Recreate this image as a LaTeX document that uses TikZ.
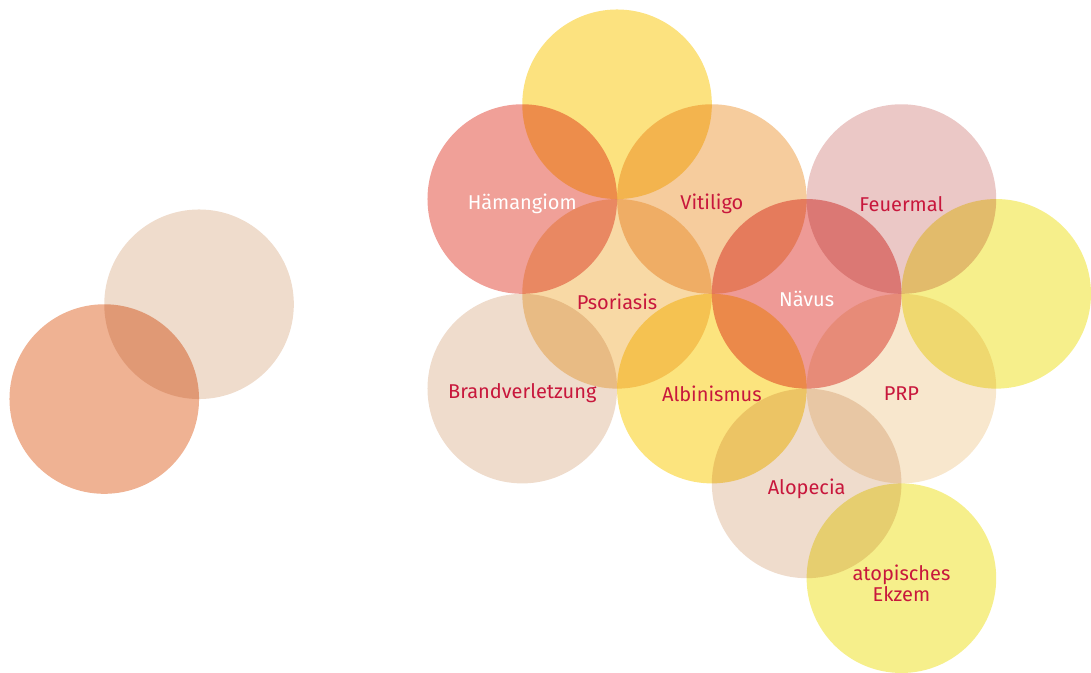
\documentclass[tikz,border=0pt]{standalone}
\usepackage{fontspec}
\setsansfont{Fira Sans}
\usepackage{xcolor}
\usepackage{tikz}
\definecolor{ink}{HTML}{C8173C}
\definecolor{sun}{HTML}{FCE27F}
\definecolor{rose}{HTML}{F0A098}
\definecolor{apricot}{HTML}{F6CC9D}
\definecolor{blush}{HTML}{EBC8C6}
\definecolor{peach}{HTML}{F8D9A5}
\definecolor{coral}{HTML}{EE9A96}
\definecolor{lemon}{HTML}{F6EF8B}
\definecolor{sand}{HTML}{EFDCCC}
\definecolor{gold}{HTML}{FCE47E}
\definecolor{cream}{HTML}{F8E7CD}
\definecolor{salmon}{HTML}{EFB293}
\tikzset{
  disc/.style={circle, minimum size=4cm, inner sep=0pt, outer sep=0pt, draw=none},
  tag/.style={font=\sffamily\fontsize{12}{12.6}\selectfont, text=ink, align=center,
              inner sep=0pt, yshift=-3pt},
  tagwhite/.style={tag, text=white},
}

\begin{document}
\begin{tikzpicture}[x=2cm, y=2cm]
    \useasboundingbox (-0.51,0) rectangle (11.0,7.1);

    % overlapping discs, multiplied so the lenses darken
    \begin{scope}[blend group=multiply]
      \node[disc, fill=sand]    (pairA) at (1.59,3.89) {};
      \node[disc, fill=salmon]  (pairB) at (0.59,2.89) {};

      \node[disc, fill=sun]     (top)   at (6,6) {};
      \node[disc, fill=rose]    (hem)   at (5,5) {};
      \node[disc, fill=apricot] (vit)   at (7,5) {};
      \node[disc, fill=blush]   (feu)   at (9,5) {};
      \node[disc, fill=peach]   (pso)   at (6,4) {};
      \node[disc, fill=coral]   (nav)   at (8,4) {};
      \node[disc, fill=lemon]   (side)  at (10,4) {};
      \node[disc, fill=sand]    (brand) at (5,3) {};
      \node[disc, fill=gold]    (albi)  at (7,3) {};
      \node[disc, fill=cream]   (prp)   at (9,3) {};
      \node[disc, fill=sand]    (alo)   at (8,2) {};
      \node[disc, fill=lemon]   (ekz)   at (9,1) {};
    \end{scope}

    \node[tagwhite] (hemT)   at (hem)   {Hämangiom};
    \node[tag]      (vitT)   at (vit)   {Vitiligo};
    \node[tag]      (feuT)   at (feu)   {Feuermal};
    \node[tag, yshift=-1.5pt] (psoT) at (pso) {Psoriasis};
    \node[tagwhite] (navT)   at (nav)   {Nävus};
    \node[tag]      (brandT) at (brand) {Brandverletzung};
    \node[tag]      (albiT)  at (albi)  {Albinismus};
    \node[tag]      (prpT)   at (prp)   {PRP};
    \node[tag]      (aloT)   at (alo)   {Alopecia};
    \node[tag]      (ekzT)   at (ekz)   {atopisches\\Ekzem};
\end{tikzpicture}
\end{document}
